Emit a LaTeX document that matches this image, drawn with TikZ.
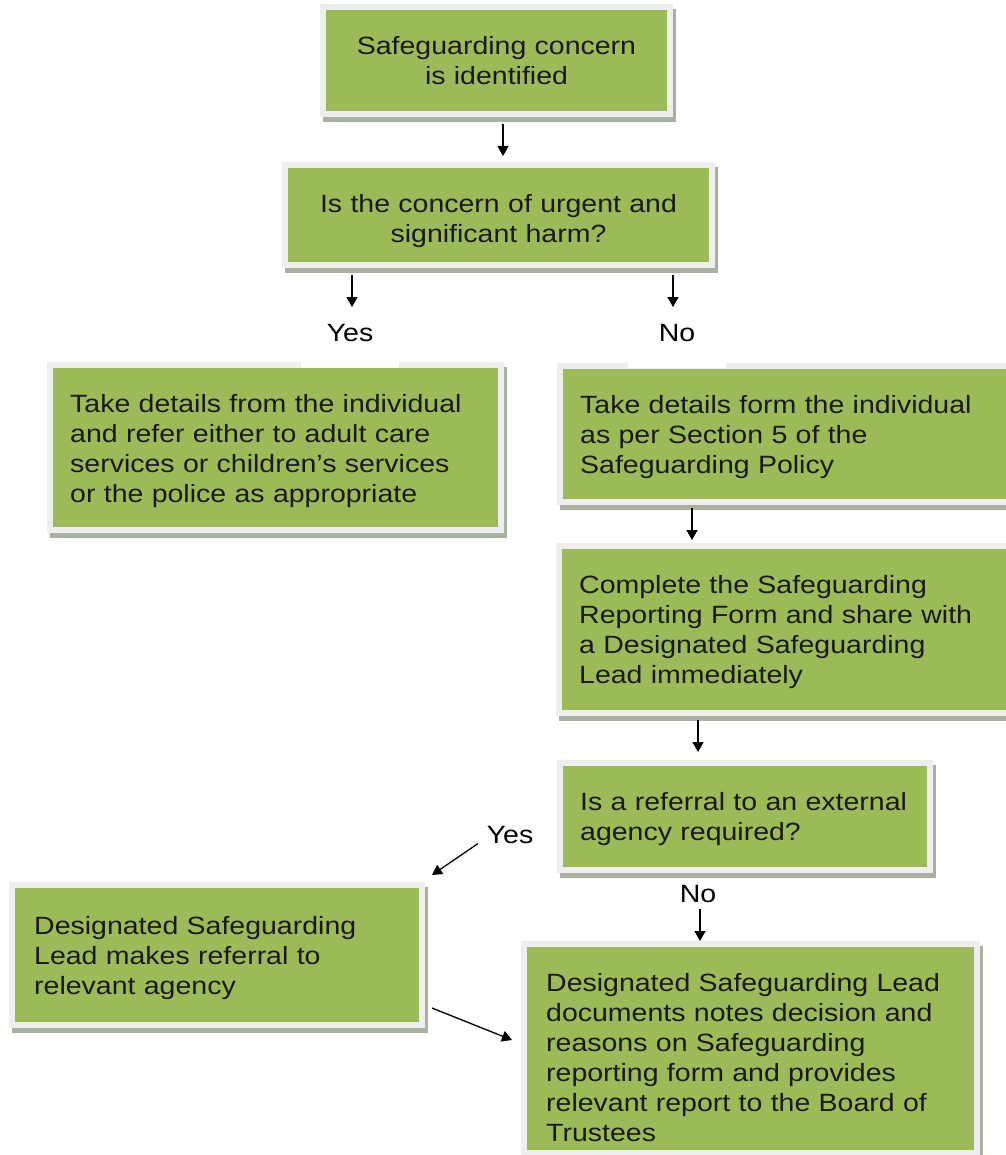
\documentclass[tikz,border=0pt]{standalone}
\usepackage{fontspec}
\setmainfont{Liberation Sans}[FakeStretch=1.14]
\usetikzlibrary{calc,arrows.meta}
\definecolor{boxgreen}{HTML}{9BBB59}
\definecolor{framecol}{HTML}{EEEEEE}
\definecolor{shadecol}{RGB}{168,176,160}
\definecolor{txtcol}{HTML}{1A1A1A}
\tikzset{
  gbox/.style={rectangle, fill=boxgreen, draw=framecol, line width=6pt,
    outer sep=0pt, inner sep=0pt,
    preaction={draw=shadecol, fill=shadecol, line width=6pt,
      transform canvas={shift={(3pt,-5pt)}}}},
  btxt/.style={inner sep=0pt, text=txtcol, align=left, anchor=base west,
    font=\fontsize{25}{30}\selectfont},
  ctxt/.style={inner sep=0pt, text=txtcol, align=center, anchor=base,
    font=\fontsize{25}{30}\selectfont},
  lbl/.style={inner sep=0pt, text=black, anchor=base,
    font=\fontsize{25}{30}\selectfont},
  wlbl/.style={lbl, fill=white, text height=41pt, text depth=27pt, minimum width=98pt},
  arr/.style={draw=black, line width=1.3pt, -{Triangle[width=11pt,length=10pt]}}
}
\begin{document}
\begin{tikzpicture}[x=1pt,y=-1pt]
\useasboundingbox (0,0) rectangle (1005,1155);
\fill[white] (0,0) rectangle (1005,1155);

% boxes (green area + frame + shadow)
\node[gbox, minimum width=347pt, minimum height=107pt] (b1) at (496.5,60.5) {};
\node[gbox, minimum width=427pt, minimum height=100pt] (b2) at (498.5,215) {};
\node[gbox, minimum width=451pt, minimum height=165pt] (b3) at (275.5,447.5) {};
\node[gbox, minimum width=455pt, minimum height=136pt] (b4) at (787.5,434) {};
\node[gbox, minimum width=456pt, minimum height=167pt] (b5) at (787,629.5) {};
\node[gbox, minimum width=370pt, minimum height=107pt] (b6) at (745,816.5) {};
\node[gbox, minimum width=410pt, minimum height=140pt] (b7) at (217,955) {};
\node[gbox, minimum width=453pt, minimum height=209pt] (b8) at (750.5,1048.5) {};

% texts
\node[ctxt, text width=341pt] (t1) at ($(b1.north)+(0,48)$)
  {Safeguarding concern\\is identified};
\node[ctxt, text width=421pt] (t2) at ($(b2.north)+(0,48)$)
  {Is the concern of urgent and\\significant harm?};
\node[btxt, text width=425pt] (t3) at ($(b3.north west)+(20,47)$)
  {Take details from the individual\\and refer either to adult care\\services or children’s services\\or the police as appropriate};
\node[btxt, text width=425pt] (t4) at ($(b4.north west)+(20,47)$)
  {Take details form the individual\\as per Section 5 of the\\Safeguarding Policy};
\node[btxt, text width=425pt] (t5) at ($(b5.north west)+(20,47)$)
  {Complete the Safeguarding\\Reporting Form and share with\\a Designated Safeguarding\\Lead immediately};
\node[btxt, text width=345pt] (t6) at ($(b6.north west)+(20,47)$)
  {Is a referral to an external\\agency required?};
\node[btxt, text width=385pt] (t7) at ($(b7.north west)+(22,49)$)
  {Designated Safeguarding\\Lead makes referral to\\relevant agency};
\node[btxt, text width=425pt] (t8) at ($(b8.north west)+(22,47)$)
  {Designated Safeguarding Lead\\documents notes decision and\\reasons on Safeguarding\\reporting form and provides\\relevant report to the Board of\\Trustees};

% labels
\node[wlbl] (yes1) at (350,341) {Yes};
\node[wlbl] (no1) at (677,341) {No};
\node[lbl] (yes2) at (510,843) {Yes};
\node[lbl] (no2) at (698,902) {No};

% connectors
\draw[arr] ($(b1.south)+(6.5,10)$) -- ($(b2.north)+(4.5,-9)$);
\draw[arr] (b2.south -| yes1) ++(2,10) -- ++(0,32);
\draw[arr] (b2.south -| no1) ++(-4,10) -- ++(0,32);
\draw[arr] ($(b4.south west)+(132,6)$) -- ++(0,32);
\draw[arr] ($(b5.south west)+(139,7)$) -- ++(0,32);
\draw[arr] ($(yes2.center)+(-32,9)$) -- ($(b7.north east)+(10,-10)$);
\draw[arr] ($(no2.center)+(2,15)$) -- ($(b8.north west)+(176,-3)$);
\draw[arr] ($(b7.south east)+(10,-17)$) -- ($(b8.west)+(-12,-8.5)$);
\end{tikzpicture}
\end{document}
